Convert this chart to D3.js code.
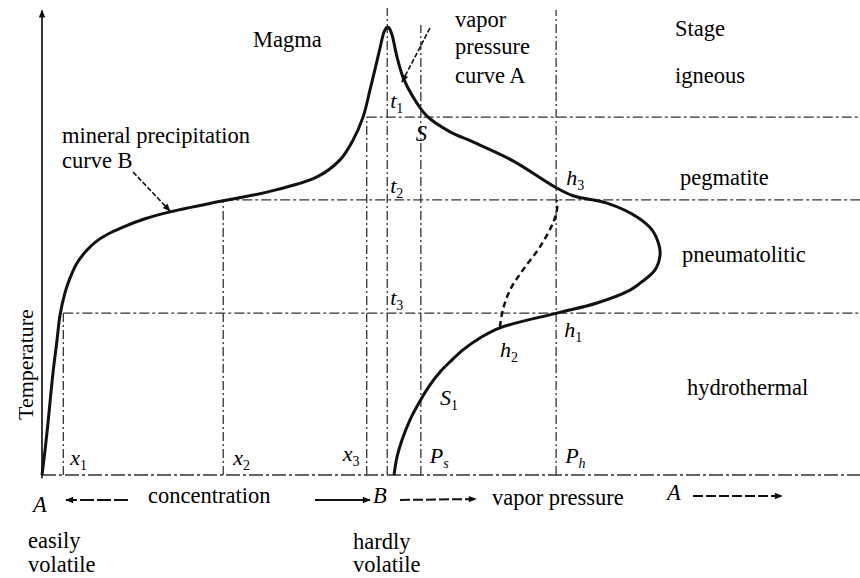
<!DOCTYPE html>
<html>
<head>
<meta charset="UTF-8">
<script src="https://d3js.org/d3.v7.min.js"></script>
</head>
<body style="margin:0">
<script>
// schematic units: x = concentration / vapor pressure (0-100), y = temperature (0-100)
var curveB = [[0,0],[0.37,5.4],[0.73,11.3],[1.34,22.2],[1.83,29.3],[2.2,34.8],[2.8,39.6],
  [3.41,42.8],[4.27,46.1],[5.49,48.9],[6.71,50.9],[8.29,52.6],[9.88,53.9],[12.56,55.7],
  [15.61,57.2],[22.07,59.6],[27.44,61.5],[33.54,64.8],[36.34,68.5],[37.93,72.8],[39.15,77.8],
  [40,83.7],[40.73,89.1],[41.22,92.8],[41.71,96.3],[42.07,97.4]];
var curveA = [[42.07,97.4],[42.32,97.2],[42.68,95.7],[43.29,90.9],[44.02,86.5],[45.24,82.2],
  [46.95,78],[49.76,74.6],[52.56,72.4],[57.44,68.3],[62.56,62.6],[64.76,60.7],[68.9,59.1],
  [72.56,56.1],[74.39,53.3],[75.24,50],[75.37,47.8],[74.76,44.6],[72.93,41.7],[71.71,40.2],
  [67.68,37.4],[62.8,35.2],[55.85,32],[53.41,29.8],[51.34,27.2],[49.76,24.6],[48.54,22.4],
  [47.32,19.6],[46.1,16.1],[44.88,12],[43.9,7.6],[43.29,3.9],[42.93,0]];
var curveH = [[55.85,32.2],[56.2,35.9],[57.07,40.2],[58.66,44.6],[60.73,49.6],[62.32,54.8],[62.8,57.6],[62.8,59.8]];

var vLines = [["x1",2.6,35.2],["x2",22.1,59.8],["x3",39.6,77.8],["B",42.1,101.5],["Ps",46.2,97.8],["Ph",62.7,101.1]];
var hLines = [["t1",77.8,39.6],["t2",59.8,22.1],["t3",35.2,2.6]];
var stages = ["Stage","igneous","pegmatite","pneumatolitic","hydrothermal"];

var W = 860, H = 578;
var FS = 22.5;
var x = d3.scaleLinear().domain([0, 100]).range([42, 862]);
var y = d3.scaleLinear().domain([0, 100]).range([475, 15]);

var svg = d3.select("body").append("svg").attr("width", W).attr("height", H)
  .style("background", "#fff");

var defs = svg.append("defs");
defs.append("marker").attr("id", "head")
  .attr("viewBox", "0 -5 10 10").attr("refX", 9).attr("refY", 0)
  .attr("markerWidth", 11).attr("markerHeight", 8)
  .attr("markerUnits", "userSpaceOnUse").attr("orient", "auto")
  .append("path").attr("d", "M0,-4L10,0L0,4Z").attr("fill", "#111");

// reference lines
svg.selectAll(".vl").data(vLines).enter().append("line")
  .attr("x1", d => x(d[1])).attr("x2", d => x(d[1]))
  .attr("y1", y(0)).attr("y2", d => y(d[2]))
  .attr("stroke", "#333").attr("stroke-width", 1.3)
  .attr("stroke-dasharray", "9,3,2,3");

svg.selectAll(".hl").data(hLines).enter().append("line")
  .attr("x1", d => x(d[2])).attr("x2", x(100))
  .attr("y1", d => y(d[1])).attr("y2", d => y(d[1]))
  .attr("stroke", "#333").attr("stroke-width", 1.3)
  .attr("stroke-dasharray", "10,3,3,3");

// axis lines, drawn by hand (no ticks in this schematic)
svg.append("line").attr("x1", x(0)).attr("x2", x(0)).attr("y1", y(-0.7)).attr("y2", y(101))
  .attr("stroke", "#222").attr("stroke-width", 1.8).attr("marker-end", "url(#head)");
svg.append("line").attr("x1", x(0)).attr("x2", x(100)).attr("y1", y(0)).attr("y2", y(0))
  .attr("stroke", "#333").attr("stroke-width", 1.6).attr("stroke-dasharray", "14,3,3,3");

// curves
var line = d3.line().x(d => x(d[0])).y(d => y(d[1])).curve(d3.curveCatmullRom);
svg.append("path").attr("d", line(curveB)).attr("fill", "none")
  .attr("stroke", "#111").attr("stroke-width", 3);
svg.append("path").attr("d", line(curveA)).attr("fill", "none")
  .attr("stroke", "#111").attr("stroke-width", 3);
svg.append("path").attr("d", line(curveH)).attr("fill", "none")
  .attr("stroke", "#111").attr("stroke-width", 2.5).attr("stroke-dasharray", "6,4");

// text helpers
function txt(px, py, s, italic) {
  var t = svg.append("text").attr("x", px).attr("y", py)
    .style("font-family", "'Liberation Serif'").attr("font-size", FS);
  if (italic) t.style("font-style", "italic");
  return t.text(s);
}
function sym(px, py, main, sub, subItalic) {
  var t = svg.append("text").attr("x", px).attr("y", py)
    .style("font-family", "'Liberation Serif'").attr("font-size", 22);
  t.append("tspan").style("font-style", "italic").text(main);
  var s = t.append("tspan").attr("font-size", 14).attr("dy", 5).text(sub);
  if (subItalic) s.style("font-style", "italic");
  return t;
}

txt(253, 47, "Magma");
txt(455, 27, "vapor");
txt(455, 54, "pressure");
txt(455, 83, "curve A");
var stageY = [36, 83, 185, 262, 395], stageX = [675, 675, 680, 682, 687];
stages.forEach(function (s, i) { txt(stageX[i], stageY[i], s); });
txt(62, 143, "mineral precipitation");
txt(62, 168, "curve B");
txt(0, 0, "Temperature").attr("font-size", 22).attr("transform", "translate(33,420) rotate(-90)");

// line labels
sym(x(42.1) + 3, y(77.8) - 9, "t", "1");
sym(x(42.1) + 3, y(59.8) - 7, "t", "2");
sym(x(42.1) + 3, y(35.2) - 8, "t", "3");
txt(x(46.2) - 5, y(77.8) + 24, "S", true);
sym(x(62.7) + 10, y(59.8) - 15, "h", "3");
sym(x(62.7) + 8, y(35.2) + 24, "h", "1");
sym(x(55.85), y(35.2) + 44, "h", "2");
sym(440, 405, "S", "1");
sym(x(2.6) + 7, y(0) - 10, "x", "1");
sym(x(22.1) + 10, y(0) - 10, "x", "2");
sym(x(39.6) - 24, y(0) - 14, "x", "3");
sym(x(46.2) + 9, y(0) - 12, "P", "s", true);
sym(x(62.7) + 9, y(0) - 12, "P", "h", true);

// bottom row
txt(33, 512, "A", true);
txt(148, 503, "concentration");
txt(373, 503, "B", true);
txt(492, 505, "vapor pressure");
txt(667, 500, "A", true);
txt(28, 548, "easily");
txt(28, 572, "volatile");
txt(353, 549, "hardly");
txt(353, 572, "volatile");

function arrow(x1, y1, x2, y2, dash, w) {
  svg.append("line").attr("x1", x1).attr("y1", y1).attr("x2", x2).attr("y2", y2)
    .attr("stroke", "#111").attr("stroke-width", w || 2)
    .attr("stroke-dasharray", dash).attr("marker-end", "url(#head)");
}
arrow(128, 500, 66, 500, "14,3");
arrow(315, 500, 370, 500, null);
arrow(400, 500, 476, 499, "10,3");
arrow(693, 496, 782, 496, "10,3");
arrow(133, 172, 170, 211, "5,2", 1.6);
arrow(430, 28, 402, 82, "5,2", 1.6);
</script>
</body>
</html>
